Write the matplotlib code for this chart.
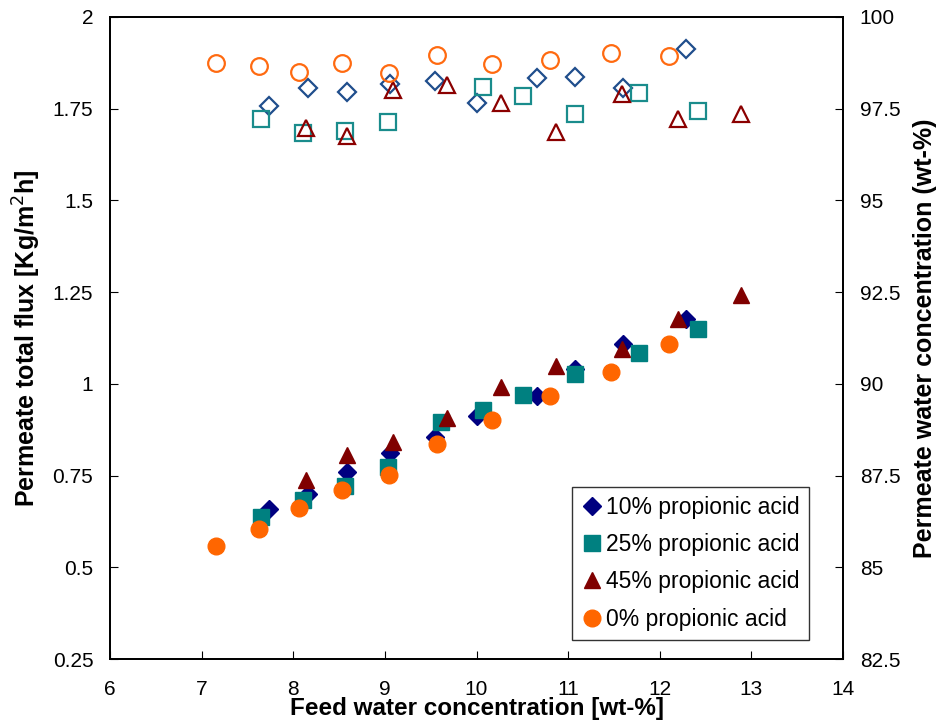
import numpy as np
import matplotlib.pyplot as plt
from matplotlib.ticker import FuncFormatter

plt.rcParams['font.family'] = ['Liberation Sans', 'DejaVu Sans']

# feed water concentration (wt-%) for each series
x10 = [7.73, 8.16, 8.59, 9.06, 9.55, 10.00, 10.66, 11.08, 11.60, 12.29]
x25 = [7.65, 8.11, 8.57, 9.03, 9.61, 10.07, 10.51, 11.08, 11.77, 12.42]
x45 = [8.14, 8.59, 9.09, 9.68, 10.27, 10.87, 11.59, 12.20, 12.89]
x0 = [7.16, 7.63, 8.06, 8.53, 9.05, 9.57, 10.17, 10.80, 11.47, 12.10]

# permeate total flux (left axis, filled markers)
flux10 = [0.660, 0.699, 0.760, 0.812, 0.854, 0.912, 0.967, 1.040, 1.109, 1.177]
flux25 = [0.636, 0.683, 0.722, 0.774, 0.897, 0.928, 0.970, 1.027, 1.083, 1.149]
flux45 = [0.738, 0.806, 0.841, 0.906, 0.991, 1.050, 1.094, 1.176, 1.241]
flux0 = [0.558, 0.605, 0.662, 0.710, 0.752, 0.835, 0.901, 0.967, 1.031, 1.109]

# permeate water concentration (right axis, open markers)
xw25 = [7.65, 8.11, 8.57, 9.03, 10.07, 10.51, 11.08, 11.77, 12.42]
wat10 = [97.56, 98.07, 97.95, 98.17, 98.25, 97.65, 98.33, 98.37, 98.07, 99.12]
wat25 = [97.23, 96.84, 96.88, 97.15, 98.10, 97.84, 97.36, 97.92, 97.45]
wat45 = [96.97, 96.76, 98.01, 98.15, 97.66, 96.87, 97.89, 97.23, 97.35]
wat0 = [98.75, 98.67, 98.49, 98.75, 98.46, 98.97, 98.71, 98.84, 99.02, 98.94]

fig = plt.figure(figsize=(9.42, 7.25), dpi=100)
ax = fig.add_axes([0.1168, 0.091, 0.7781, 0.8856])
ax2 = ax.twinx()

# open markers -> water concentration
ax2.plot(x10, wat10, 'D', ms=9, mfc='none', mec='#1f4e8c', mew=1.6)
ax2.plot(xw25, wat25, 's', ms=11, mfc='none', mec='#1a8c8c', mew=1.6)
ax2.plot(x45, wat45, '^', ms=12, mfc='none', mec='#8b0000', mew=1.6)
ax2.plot(x0, wat0, 'o', ms=12, mfc='none', mec='#ff6a10', mew=1.6)

# filled markers -> flux
ax.plot(x10, flux10, 'D', ms=9, color='#000080', label='10% propionic acid')
ax.plot(x25, flux25, 's', ms=11, color='#008080', label='25% propionic acid')
ax.plot(x45, flux45, '^', ms=11, color='#800000', label='45% propionic acid')
ax.plot(x0, flux0, 'o', ms=12, color='#ff6600', label='0% propionic acid')

ax.set_zorder(ax2.get_zorder() + 1)
ax.patch.set_visible(False)

ax.set_xlim(6, 14)
ax.set_ylim(0.25, 2)
ax2.set_ylim(82.5, 100)
ax.set_xticks(np.arange(6, 15, 1))
ax.set_yticks(np.arange(0.25, 2.01, 0.25))
ax2.set_yticks(np.arange(82.5, 100.1, 2.5))
fmt = FuncFormatter(lambda v, p: '%g' % v)
ax.yaxis.set_major_formatter(fmt)
ax2.yaxis.set_major_formatter(fmt)

ax.tick_params(axis='x', direction='in', length=6, pad=15, labelsize=15)
ax.tick_params(axis='y', direction='in', length=6, pad=12, labelsize=15)
ax2.tick_params(axis='y', direction='in', length=6, pad=12, labelsize=15)
for a in (ax, ax2):
    for s in a.spines.values():
        s.set_linewidth(1.3)

ax.set_xlabel('Feed water concentration [wt-%]', fontsize=17.5, fontweight='bold', labelpad=-1)
ax.set_ylabel('Permeate total flux [Kg/m$^2$h]', fontsize=18, fontweight='bold', labelpad=7)
ax2.set_ylabel('Permeate water concentration (wt-%)', fontsize=18, fontweight='bold', labelpad=9)

leg = ax.legend(loc='lower left', bbox_to_anchor=(0.63, 0.03), fontsize=16.5, frameon=True,
                fancybox=False, edgecolor='black', handletextpad=0.1, handlelength=1.0,
                borderpad=0.4, labelspacing=0.62, borderaxespad=0)
leg.get_frame().set_linewidth(1.0)

plt.savefig('out.png', dpi=100)
